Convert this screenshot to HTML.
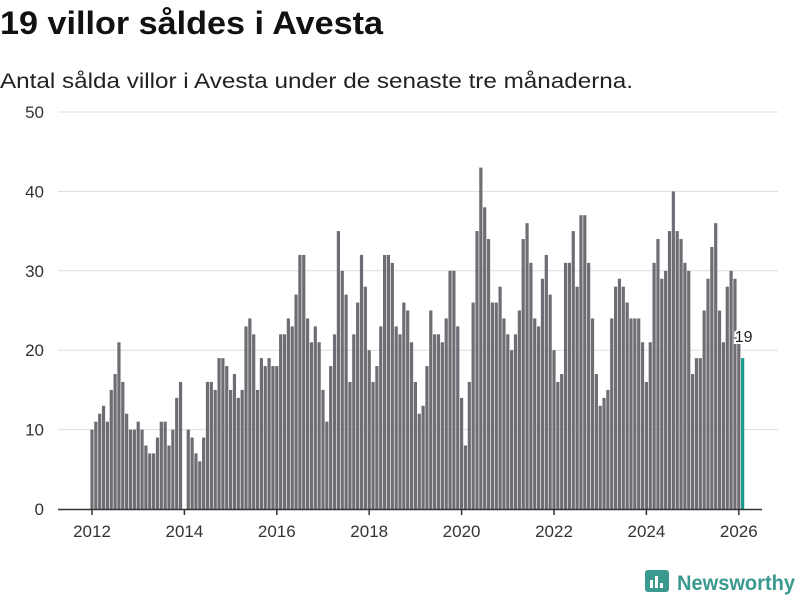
<!DOCTYPE html>
<html><head><meta charset="utf-8"><style>
body{margin:0;background:#fff;font-family:"Liberation Sans",sans-serif;}
#wrap{position:relative;width:800px;height:600px;overflow:hidden;}
</style></head><body>
<div id="wrap">
<svg id="chart" width="800" height="600">
<text x="0" y="34" font-size="32" font-weight="bold" fill="#111" textLength="383" lengthAdjust="spacingAndGlyphs">19 villor såldes i Avesta</text>
<text x="0" y="88" font-size="21" fill="#222" textLength="633" lengthAdjust="spacingAndGlyphs">Antal sålda villor i Avesta under de senaste tre månaderna.</text>
<g id="grid"></g><g id="bars"></g><g id="axis"></g>
<g>
<rect x="645" y="570" width="24" height="22" rx="3" fill="#3a9a8f"/>
<rect x="650" y="580" width="3" height="8" fill="#fff"/><rect x="655" y="576" width="3" height="12" fill="#fff"/><rect x="660" y="583" width="3" height="5" fill="#fff"/>
<text x="677" y="590" font-size="21" font-weight="bold" fill="#3a9a8f" textLength="118" lengthAdjust="spacingAndGlyphs">Newsworthy</text>
</g>
</svg>
</div>
<script>
const startYear = 2012;
const values = [
10,11,12,13,11,15,17,21,16,12,10,10,
11,10,8,7,7,9,11,11,8,10,14,16,
0,10,9,7,6,9,16,16,15,19,19,18,
15,17,14,15,23,24,22,15,19,18,19,18,
18,22,22,24,23,27,32,32,24,21,23,21,
15,11,18,22,35,30,27,16,22,26,32,28,
20,16,18,23,32,32,31,23,22,26,25,21,
16,12,13,18,25,22,22,21,24,30,30,23,
14,8,16,26,35,43,38,34,26,26,28,24,
22,20,22,25,34,36,31,24,23,29,32,27,
20,16,17,31,31,35,28,37,37,31,24,17,
13,14,15,24,28,29,28,26,24,24,24,21,
16,21,31,34,29,30,35,40,35,34,31,30,
17,19,19,25,29,33,36,25,21,28,30,29,
21,19];
const yTicks = [0,10,20,30,40,50];
const xTicks = [2012,2014,2016,2018,2020,2022,2024,2026];
const NS="http://www.w3.org/2000/svg";
const x0=92, yearW=46.2, y0=509, yTop=112;
function xPos(i){return x0+i*yearW/12;}
function yPos(v){return y0-(v/50)*(y0-yTop);}
function mk(t,a,p){const e=document.createElementNS(NS,t);for(const k in a)e.setAttribute(k,a[k]);p.appendChild(e);return e;}
const grid=document.getElementById('grid'),bars=document.getElementById('bars'),axis=document.getElementById('axis');
yTicks.forEach(v=>{
 if(v>0){const l=mk('line',{x1:58,x2:778,y1:yPos(v),y2:yPos(v),stroke:'#ddd','stroke-width':1},grid);
 
 }
 const t=mk('text',{x:44,y:yPos(v)+6,'text-anchor':'end','font-size':17,fill:'#333'},grid);
 t.textContent=v;
 
 
});
values.forEach((v,i)=>{
 const last=i===values.length-1;
 const r=mk('rect',{x:xPos(i)-1.6,y:yPos(v),width:3.2,height:y0-yPos(v),fill:last?'#1a9a8f':'#6e6d73'},bars);
 
 
});
const li=values.length-1;
const lab=mk('text',{x:xPos(li)+1,y:yPos(values[li])-16,'text-anchor':'middle','font-size':16,fill:'#222',stroke:'#fff','stroke-width':4,'paint-order':'stroke'},bars);
lab.textContent=values[li];


const al=mk('line',{x1:58,x2:762,y1:y0+0.5,y2:y0+0.5,stroke:'#333','stroke-width':1.5},axis);


xTicks.forEach(y=>{
 const x=xPos((y-startYear)*12);
 const tk=mk('line',{x1:x,x2:x,y1:y0,y2:y0+6,stroke:'#333','stroke-width':1.5},axis);
 
 
 const t=mk('text',{x:x,y:537,'text-anchor':'middle','font-size':17,fill:'#333'},axis);
 t.textContent=y;
 
 
});
</script>
</body></html>
